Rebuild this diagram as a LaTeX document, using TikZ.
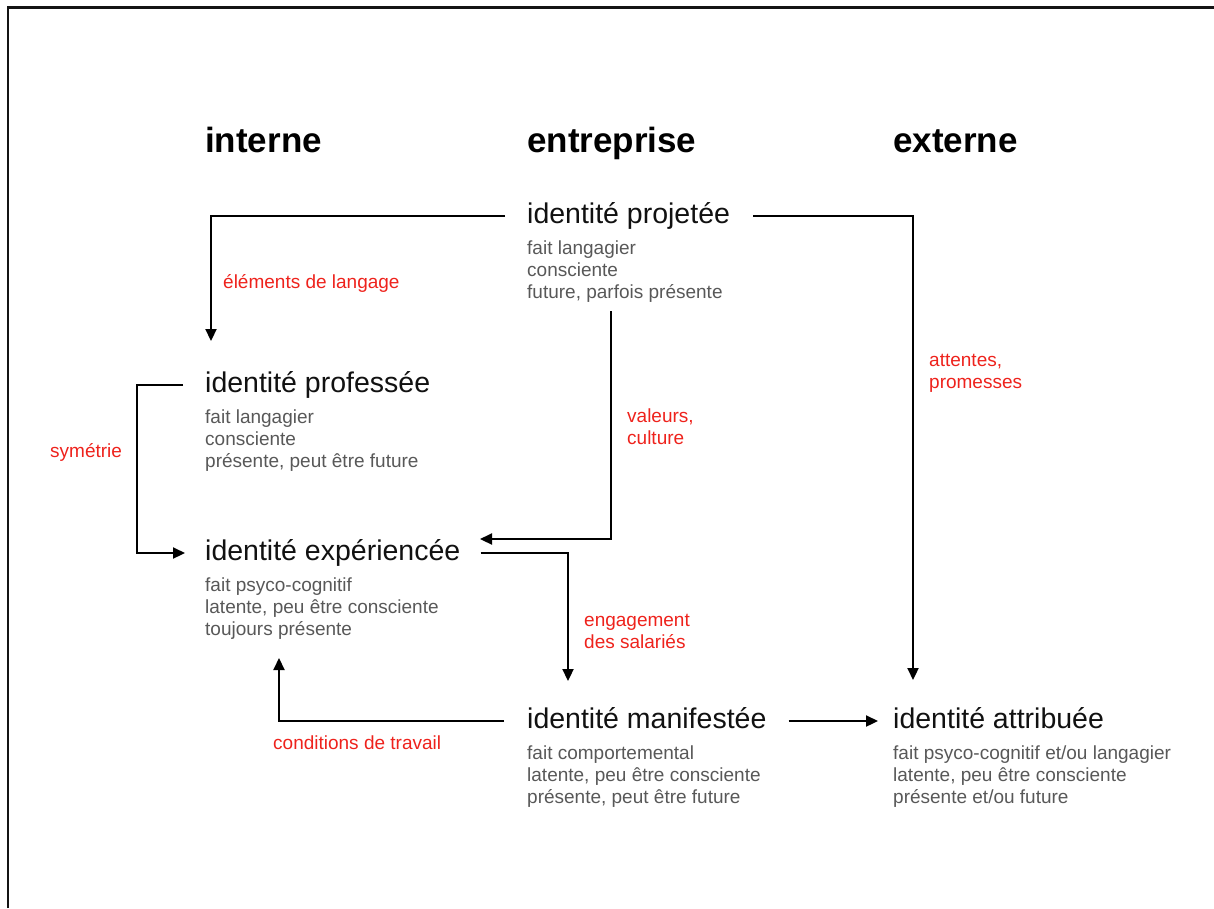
\documentclass[tikz,border=0pt]{standalone}
\usepackage{fontspec}
\setmainfont{Liberation Sans}
\usetikzlibrary{arrows.meta}
\definecolor{lblred}{RGB}{238,34,28}
\definecolor{detgray}{RGB}{88,88,88}
\definecolor{titleblack}{RGB}{17,17,17}
\definecolor{framecol}{RGB}{20,20,20}
\begin{document}
\begin{tikzpicture}[x=1pt,y=-1pt,
  head/.style={anchor=base west, inner sep=0pt, font=\fontsize{35}{42}\selectfont\bfseries, text=black},
  title/.style={anchor=base west, inner sep=0pt, font=\fontsize{28.5}{34}\selectfont, text=titleblack, text height=20pt, text depth=6pt},
  detail/.style={anchor=base west, inner sep=0pt, align=left, font=\fontsize{19}{22}\selectfont, text=detgray},
  lbl/.style={anchor=base west, inner sep=0pt, align=left, font=\fontsize{19}{22}\selectfont, text=lblred},
  conn/.style={line width=2.2pt, draw=black, -{Triangle[length=12pt,width=11pt]}}]

\useasboundingbox (0,0) rectangle (1214,908);
\draw[line width=2.2pt, draw=framecol] (8,908) -- (8,7.5) -- (1214,7.5);

% headers
\node[head] (hint) at (205,152) {interne};
\node[head] (hent) at (527,152) {entreprise};
\node[head] (hext) at (893,152) {externe};

% titles
\node[title] (proj) at (527,223) {identité projetée};
\node[title] (prof) at (205,392) {identité professée};
\node[title] (exp)  at (205,560) {identité expériencée};
\node[title] (man)  at (527,728) {identité manifestée};
\node[title] (attr) at (893,728) {identité attribuée};

% details (base anchor = baseline of last line)
\node[detail] (dproj) at (527,298) {fait langagier\\consciente\\future, parfois présente};
\node[detail] (dprof) at (205,467) {fait langagier\\consciente\\présente, peut être future};
\node[detail] (dexp)  at (205,635) {fait psyco-cognitif\\latente, peu être consciente\\toujours présente};
\node[detail] (dman)  at (527,803) {fait comportemental\\latente, peu être consciente\\présente, peut être future};
\node[detail] (dattr) at (893,803) {fait psyco-cognitif et/ou langagier\\latente, peu être consciente\\présente et/ou future};

% labels
\node[lbl] (l1) at (223,288) {éléments de langage};
\node[lbl] (l2) at (929,388) {attentes,\\promesses};
\node[lbl] (l3) at (627,444) {valeurs,\\culture};
\node[lbl] (l4) at (50,457) {symétrie};
\node[lbl] (l5) at (584,648) {engagement\\des salariés};
\node[lbl] (l6) at (273,749) {conditions de travail};

% coordinates
\coordinate (a1) at (211,341);
\coordinate (a2) at (913,680);
\coordinate (a3s) at (611,311);
\coordinate (a3e) at (480,539);
\coordinate (symx) at (137,470);
\coordinate (a5) at (568,681);
\coordinate (a6) at (279,658);

% connectors
\draw[conn] ([xshift=-22pt]proj.west) -| (a1);
\draw[conn] ([xshift=23pt]proj.east) -| (a2);
\draw[conn] (a3s) |- (a3e);
\draw[conn] ([xshift=-22pt]prof.west) -| (symx) |- ([xshift=-20pt]exp.west);
\draw[conn] ([xshift=20pt]exp.east) -| (a5);
\draw[conn] ([xshift=-23pt]man.west) -| (a6);
\draw[conn] ([xshift=22pt]man.east) -- ([xshift=-15pt]attr.west);
\end{tikzpicture}
\end{document}
